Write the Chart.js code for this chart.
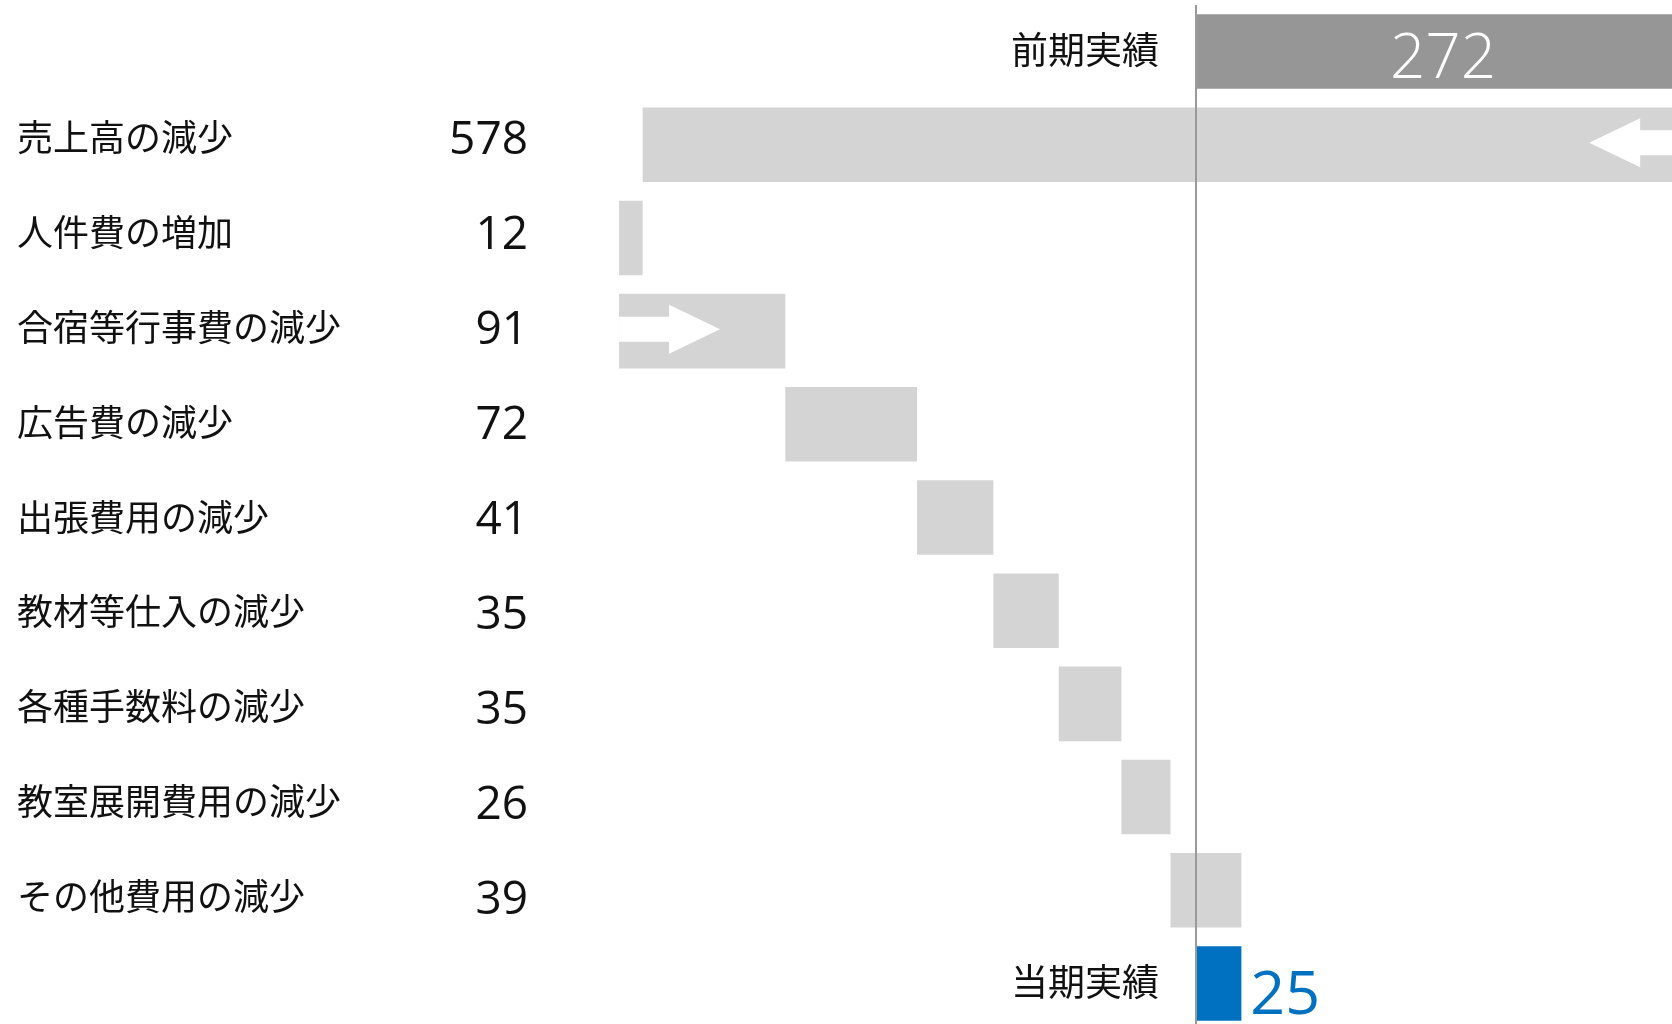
<!DOCTYPE html>
<html lang="ja">
<head>
<meta charset="utf-8">
<title>営業利益の増減要因</title>
<script src="https://cdn.jsdelivr.net/npm/chart.js@4.4.1/dist/chart.umd.min.js"></script>
<style>
  html, body { margin: 0; padding: 0; background: #fff; overflow: hidden; }
  #wrap { width: 1672px; height: 1030px; }
</style>
</head>
<body>
<div id="wrap"><canvas id="waterfall" width="1672" height="1030"></canvas></div>
<script>
const categories = ['前期実績', '売上高の減少', '人件費の増加', '合宿等行事費の減少', '広告費の減少',
  '出張費用の減少', '教材等仕入の減少', '各種手数料の減少', '教室展開費用の減少', 'その他費用の減少', '当期実績'];
// numbers printed on each row
const amountLabels = ['272', '578', '12', '91', '72', '41', '35', '35', '26', '39', '25'];
// running level after each row (printed numbers are rounded)
const levels = [272, -304.5, -317.5, -226, -153.5, -111.5, -75.5, -41, -14, 25];
const axisMin = -350;
const axisMax = 262;
// rows with a white direction arrow in the bar
const arrowRows = [1, 3];

const last = categories.length - 1;

// floating [from, to] for every row
const bars = categories.map((c, i) => {
  if (i === 0) return [0, levels[0]];
  if (i === last) return [0, levels[levels.length - 1]];
  return [levels[i - 1], levels[i]];
});
const barColors = categories.map((c, i) => i === 0 ? '#969696' : (i === last ? '#0070c0' : '#d4d4d4'));

const JP = '"Noto Sans CJK JP", "Noto Sans", sans-serif';
const NUM = '"Open Sans", "Noto Sans", sans-serif';

const waterfallDecor = {
  id: 'waterfallDecor',
  afterDatasetsDraw(chart) {
    const { ctx, chartArea, scales: { x, y } } = chart;
    const pitch = y.getPixelForValue(1) - y.getPixelForValue(0);

    ctx.save();
    // arrows inside the first decrease / first increase bar
    ctx.beginPath();
    ctx.rect(chartArea.left, chartArea.top, chartArea.width, chartArea.height);
    ctx.clip();
    ctx.fillStyle = '#ffffff';
    arrowRows.forEach(i => {
      const [from, to] = bars[i];
      const dir = to > from ? 1 : -1;
      const xs = x.getPixelForValue(from);
      const yc = y.getPixelForValue(i) - 2;
      ctx.beginPath();
      ctx.moveTo(xs, yc - 12.5);
      ctx.lineTo(xs + dir * 50, yc - 12.5);
      ctx.lineTo(xs + dir * 50, yc - 24.5);
      ctx.lineTo(xs + dir * 101, yc);
      ctx.lineTo(xs + dir * 50, yc + 24.5);
      ctx.lineTo(xs + dir * 50, yc + 12.5);
      ctx.lineTo(xs, yc + 12.5);
      ctx.closePath();
      ctx.fill();
    });
    ctx.restore();

    ctx.save();
    // zero line drawn over the bars
    const x0 = Math.round(x.getPixelForValue(0));
    ctx.strokeStyle = '#9a9a9a';
    ctx.lineWidth = 2;
    ctx.beginPath();
    ctx.moveTo(x0, chartArea.top);
    ctx.lineTo(x0, chartArea.bottom);
    ctx.stroke();

    ctx.textBaseline = 'alphabetic';
    // item names and amounts on the left, a slightly wider row pitch than the bars
    const yMid = y.getPixelForValue(5);
    for (let i = 1; i < last; i++) {
      const yc = yMid + (i - 5) * pitch * 1.019;
      ctx.fillStyle = '#111111';
      ctx.font = '36px ' + JP;
      ctx.textAlign = 'left';
      ctx.fillText(categories[i], 17, yc + 13);
      ctx.font = '46px ' + NUM;
      ctx.textAlign = 'right';
      ctx.fillText(amountLabels[i], 528, yc + 16.5);
    }

    // start / end captions left of the zero line
    ctx.fillStyle = '#111111';
    ctx.font = '37px ' + JP;
    ctx.textAlign = 'right';
    [0, last].forEach(i => {
      ctx.fillText(categories[i], x0 - 37, y.getPixelForValue(i) + 12.5);
    });

    // previous result inside its bar
    ctx.fillStyle = '#ffffff';
    ctx.font = '300 62px ' + NUM;
    ctx.textAlign = 'center';
    ctx.fillText(amountLabels[0], x.getPixelForValue(bars[0][1] / 2), y.getPixelForValue(0) + 26);

    // current result right of its bar
    ctx.fillStyle = '#0070c0';
    ctx.font = '61px ' + NUM;
    ctx.textAlign = 'left';
    ctx.fillText(amountLabels[last], x.getPixelForValue(bars[last][1]) + 9, y.getPixelForValue(last) + 31);
    ctx.restore();
  }
};

new Chart(document.getElementById('waterfall'), {
  type: 'bar',
  data: {
    labels: categories,
    datasets: [{
      data: bars,
      backgroundColor: barColors,
      borderWidth: 0,
      borderSkipped: false,
      barPercentage: 1,
      categoryPercentage: 0.8
    }]
  },
  options: {
    indexAxis: 'y',
    responsive: false,
    animation: false,
    devicePixelRatio: 1,
    events: [],
    layout: { padding: { left: 560, right: 0, top: 5, bottom: 0 } },
    scales: {
      x: { display: false, min: axisMin, max: axisMax },
      y: { display: false }
    },
    plugins: {
      legend: { display: false },
      tooltip: { enabled: false }
    }
  },
  plugins: [waterfallDecor]
});
</script>
</body>
</html>
